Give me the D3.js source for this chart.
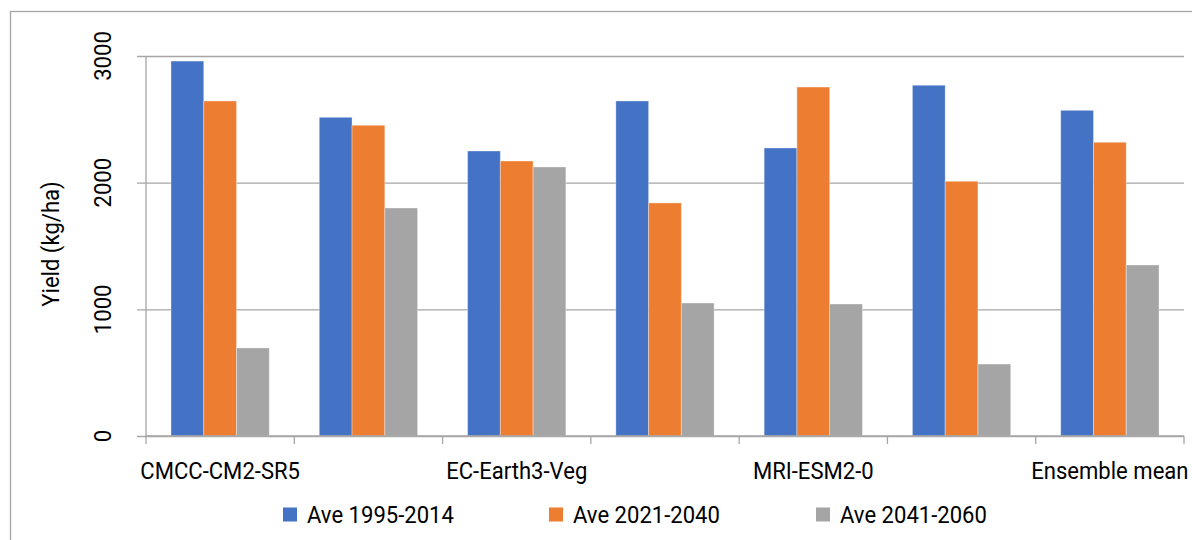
<!DOCTYPE html>
<html>
<head>
<meta charset="utf-8">
<script src="https://cdn.jsdelivr.net/npm/d3@7"></script>
<style>
  html, body { margin: 0; padding: 0; background: #fff; }
  svg { display: block; font-family: Roboto, "Noto Sans", sans-serif; }
</style>
</head>
<body>
<svg id="chart" width="1192" height="540"></svg>
<script>
// ---- data ----
const categories = ["CMCC-CM2-SR5", "CNRM-ESM2-1", "EC-Earth3-Veg", "GFDL-ESM4", "MRI-ESM2-0", "UKESM1-0-LL", "Ensemble mean"];
const seriesNames = ["Ave 1995-2014", "Ave 2021-2040", "Ave 2041-2060"];
const ave1995_2014 = [2960, 2516, 2250, 2645, 2274, 2769, 2571];
const ave2021_2040 = [2645, 2453, 2171, 1840, 2755, 2011, 2319];
const ave2041_2060 = [695, 1800, 2124, 1050, 1042, 568, 1350];
const yTicks = [0, 1000, 2000, 3000];
const colors = ["#4472c4", "#ed7d31", "#a5a5a5"];
const seriesValues = [ave1995_2014, ave2021_2040, ave2041_2060];

// ---- layout ----
const svg = d3.select("#chart");
const pL = 146, pR = 1184, pT = 56, pB = 436;
const fontSize = 24;
const sx = 0.92; // slight horizontal condensing

// outer frame
svg.append("rect").attr("x", 10.5).attr("y", 11.5).attr("width", 1200).attr("height", 600)
  .attr("fill", "none").attr("stroke", "#a6a6a6").attr("stroke-width", 1.3);

const y = d3.scaleLinear().domain([0, 3000]).range([pB, pT]);
const x0 = d3.scaleBand().domain(categories).range([pL, pR]).padding(0);
const groupPad = 25;
const x1 = d3.scaleBand().domain(seriesNames).range([groupPad, x0.bandwidth() - groupPad]).padding(0);

// gridlines
const gridG = svg.append("g").attr("transform", `translate(${pL},0)`)
  .call(d3.axisLeft(y).tickValues(yTicks).tickSize(-(pR - pL)).tickFormat(""));
gridG.select(".domain").remove();
gridG.selectAll(".tick line").attr("stroke", "#a6a6a6").attr("stroke-width", 1.3)
  .attr("x1", -9).attr("x2", pR - pL);

// y axis line
svg.append("line").attr("x1", pL).attr("x2", pL).attr("y1", pT).attr("y2", pB)
  .attr("stroke", "#a6a6a6").attr("stroke-width", 1.3);

// y tick labels (rotated)
svg.append("g").selectAll("text").data(yTicks).join("text")
  .attr("transform", d => `translate(111,${y(d)}) rotate(-90) scale(${sx},1)`)
  .attr("text-anchor", "middle")
  .attr("font-size", fontSize)
  .attr("fill", "#000")
  .text(d => d);

// y title
svg.append("text")
  .attr("transform", `translate(59,${(pT + pB) / 2 - 2}) rotate(-90) scale(${sx},1)`)
  .attr("text-anchor", "middle")
  .attr("font-size", fontSize)
  .attr("fill", "#000")
  .text("Yield (kg/ha)");

// bars
const groups = svg.append("g").selectAll("g").data(categories).join("g")
  .attr("transform", d => `translate(${x0(d)},0)`);
groups.selectAll("rect").data((d, i) => seriesNames.map((s, j) => ({ s, v: seriesValues[j][i], c: colors[j] })))
  .join("rect")
  .attr("x", d => x1(d.s))
  .attr("width", x1.bandwidth())
  .attr("y", d => y(d.v))
  .attr("height", d => pB - y(d.v))
  .attr("fill", d => d.c)
  .attr("stroke", "rgba(255,255,255,0.35)")
  .attr("stroke-width", 1);

// x axis
const boundaries = categories.map(c => x0(c)).concat([pR]);
svg.append("line").attr("x1", pL).attr("x2", pR).attr("y1", pB).attr("y2", pB)
  .attr("stroke", "#a6a6a6").attr("stroke-width", 1.3);
svg.append("g").selectAll("line").data(boundaries).join("line")
  .attr("x1", d => d).attr("x2", d => d).attr("y1", pB).attr("y2", pB + 8)
  .attr("stroke", "#a6a6a6").attr("stroke-width", 1.3);
svg.append("g").selectAll("text").data(categories.filter((c, i) => i % 2 === 0)).join("text")
  .attr("transform", d => `translate(${x0(d) + x0.bandwidth() / 2},478.5) scale(${sx},1)`)
  .attr("text-anchor", "middle")
  .attr("font-size", fontSize)
  .attr("fill", "#000")
  .text(d => d);

// legend
const legendX = [283, 549, 816];
const lg = svg.append("g").selectAll("g").data(seriesNames).join("g")
  .attr("transform", (d, i) => `translate(${legendX[i]},507.5)`);
lg.append("rect").attr("width", 14).attr("height", 14).attr("fill", (d, i) => colors[i]);
lg.append("text").attr("transform", `translate(24,15.5) scale(${sx},1)`)
  .attr("font-size", fontSize).attr("fill", "#000").text(d => d);
</script>
</body>
</html>
